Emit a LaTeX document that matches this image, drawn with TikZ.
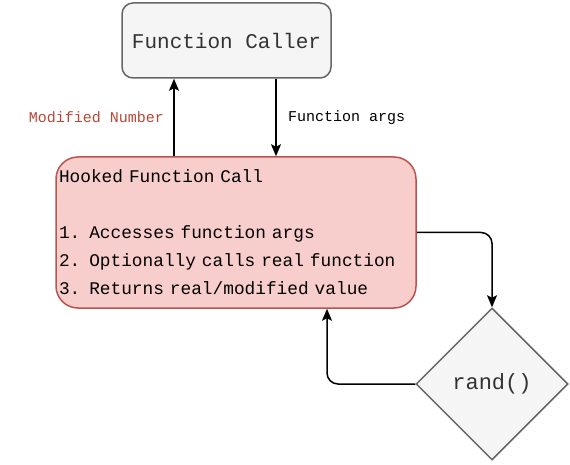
\documentclass[tikz,border=0pt]{standalone}
\usepackage{fontspec}
\setmainfont{Liberation Mono}
\usetikzlibrary{
    arrows.meta,
    positioning,
    shapes.geometric
}
\definecolor{BoxGray}{HTML}{F5F5F5}
\definecolor{EdgeGray}{HTML}{666666}
\definecolor{TextGray}{HTML}{333333}
\definecolor{HookFill}{HTML}{F8CECC}
\definecolor{HookEdge}{HTML}{B85450}
\definecolor{LabelRed}{RGB}{185,70,55}
\tikzset{
  callbox/.style  = {draw=EdgeGray, fill=BoxGray, rounded corners=11pt,
                     line width=1.5pt, text=TextGray,
                     font=\fontsize{21}{25}\selectfont},
  hookbox/.style  = {draw=HookEdge, fill=HookFill, rounded corners=22pt,
                     line width=1.5pt, align=left, inner sep=3pt,
                     font=\fontsize{17.8}{28}\selectfont},
  choice/.style   = {draw=EdgeGray, fill=BoxGray, diamond, aspect=1,
                     line width=1.5pt, inner sep=0pt, text=TextGray,
                     font=\fontsize{22}{26}\selectfont},
  arr/.style      = {-{Stealth[length=12pt,width=10pt,inset=2.5pt]},
                     line width=1.5pt, rounded corners=11pt},
  lbl/.style      = {font=\fontsize{15}{18}\selectfont}
}

\begin{document}
\begin{tikzpicture}[x=1pt, y=1pt]
\useasboundingbox (0,0) rectangle (570,464);

\node[callbox, minimum width=209pt, minimum height=75pt] (caller)
    at (226.5,423.5) {Function Caller};
\node[hookbox, minimum width=360pt, minimum height=151pt,
      text width=354pt] (hook) at (236,231.5)
    {Hooked Function Call\\[28pt]
     1. Accesses function args\\
     2. Optionally calls real function\\
     3. Returns real/modified value};
\node[choice, minimum width=152pt, minimum height=152pt] (rnd)
    at (492,80) {rand()};

% x positions of the vertical connectors
\coordinate (retx) at (174,0);
\coordinate (argx) at (276,0);
\coordinate (backx) at (327,0);

\draw[arr] (hook.north -| retx) -- node[lbl, left=6pt, text=LabelRed]
    {Modified Number} (caller.south -| retx);
\draw[arr] (caller.south -| argx) -- node[lbl, right=8pt]
    {Function args} (hook.north -| argx);
\draw[arr] (hook.east) -| (rnd.north);
\draw[arr] (rnd.west) -| (hook.south -| backx);
\end{tikzpicture}
\end{document}
